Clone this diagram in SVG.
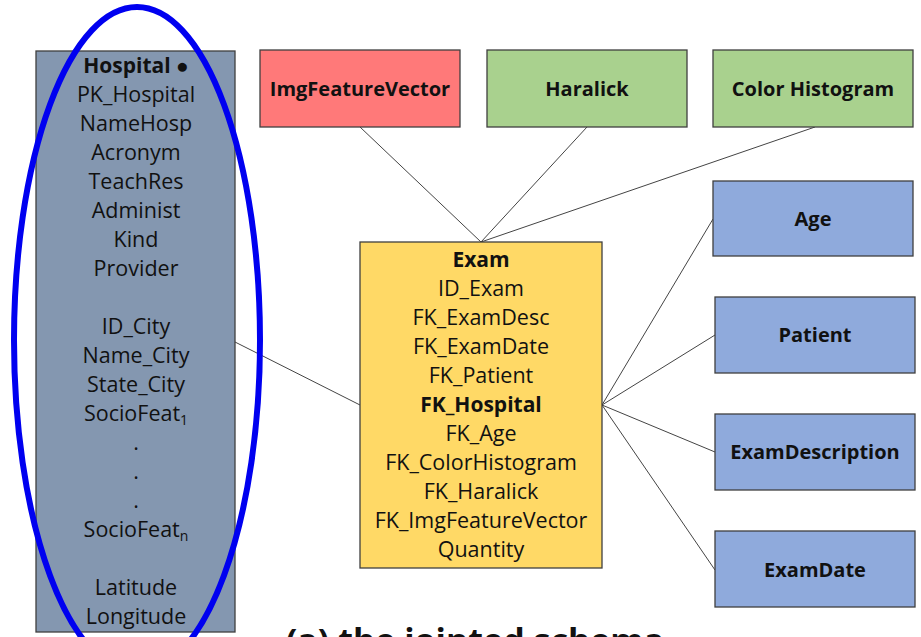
<svg xmlns="http://www.w3.org/2000/svg" width="921" height="637" viewBox="0 0 921 637">
  <style>
    .box { stroke: #3f3f3f; stroke-width: 1.3; }
    .hosp { fill: #8497b0; }
    .fact { fill: #ffd966; }
    .red { fill: #ff7979; }
    .green { fill: #a9d18e; }
    .blue { fill: #8faadc; }
    .t { font-family: "Open Sans", "Liberation Sans", sans-serif; font-size: 21.5px; fill: #111; text-anchor: middle; }
    .b { font-weight: bold; font-size: 21px; }
    .lbl { font-weight: bold; font-size: 20px; }
    .edge { stroke: #444; stroke-width: 1; fill: none; }
  </style>
  <rect width="921" height="637" fill="#ffffff"/>

  <!-- relationship lines -->
  <g id="connectors">
    <line class="edge" x1="360" y1="127" x2="481" y2="242"/>
    <line class="edge" x1="587" y1="127" x2="481" y2="242"/>
    <line class="edge" x1="815" y1="127" x2="481" y2="242"/>
    <line class="edge" x1="235" y1="342" x2="360" y2="405"/>
    <line class="edge" x1="602" y1="405" x2="713" y2="219"/>
    <line class="edge" x1="602" y1="405" x2="715" y2="335"/>
    <line class="edge" x1="602" y1="405" x2="715" y2="452"/>
    <line class="edge" x1="602" y1="405" x2="715" y2="570"/>
  </g>

  <!-- Hospital dimension -->
  <g id="hospital">
    <rect class="box hosp" x="36" y="51" width="199" height="581"/>
    <text class="t b" x="136" y="73">Hospital ●</text>
    <text class="t" x="136" y="102">PK_Hospital</text>
    <text class="t" x="136" y="131">NameHosp</text>
    <text class="t" x="136" y="160">Acronym</text>
    <text class="t" x="136" y="189">TeachRes</text>
    <text class="t" x="136" y="218">Administ</text>
    <text class="t" x="136" y="247">Kind</text>
    <text class="t" x="136" y="276">Provider</text>
    <text class="t" x="136" y="334">ID_City</text>
    <text class="t" x="136" y="363">Name_City</text>
    <text class="t" x="136" y="392">State_City</text>
    <text class="t" x="136" y="421">SocioFeat<tspan font-size="14" dy="4">1</tspan></text>
    <text class="t" x="136" y="450">.</text>
    <text class="t" x="136" y="479">.</text>
    <text class="t" x="136" y="508">.</text>
    <text class="t" x="136" y="537">SocioFeat<tspan font-size="14" dy="4">n</tspan></text>
    <text class="t" x="136" y="595">Latitude</text>
    <text class="t" x="136" y="624">Longitude</text>
  </g>

  <!-- Exam fact table -->
  <g id="exam">
    <rect class="box fact" x="360" y="242" width="242" height="326"/>
    <text class="t b" x="481" y="267">Exam</text>
    <text class="t" x="481" y="296">ID_Exam</text>
    <text class="t" x="481" y="325">FK_ExamDesc</text>
    <text class="t" x="481" y="354">FK_ExamDate</text>
    <text class="t" x="481" y="383">FK_Patient</text>
    <text class="t b" x="481" y="412">FK_Hospital</text>
    <text class="t" x="481" y="441">FK_Age</text>
    <text class="t" x="481" y="470">FK_ColorHistogram</text>
    <text class="t" x="481" y="499">FK_Haralick</text>
    <text class="t" x="481" y="528">FK_ImgFeatureVector</text>
    <text class="t" x="481" y="557">Quantity</text>
  </g>

  <!-- image feature dimensions -->
  <g id="imgfeaturevector">
    <rect class="box red" x="260" y="50" width="200" height="77"/>
    <text class="t lbl" x="360" y="96">ImgFeatureVector</text>
  </g>
  <g id="haralick">
    <rect class="box green" x="487" y="50" width="200" height="77"/>
    <text class="t lbl" x="587" y="96">Haralick</text>
  </g>
  <g id="colorhistogram">
    <rect class="box green" x="713" y="50" width="200" height="77"/>
    <text class="t lbl" x="813" y="96">Color Histogram</text>
  </g>

  <!-- other dimensions -->
  <g id="age">
    <rect class="box blue" x="713" y="181" width="200" height="75"/>
    <text class="t lbl" x="813" y="226">Age</text>
  </g>
  <g id="patient">
    <rect class="box blue" x="715" y="297" width="200" height="76"/>
    <text class="t lbl" x="815" y="342">Patient</text>
  </g>
  <g id="examdescription">
    <rect class="box blue" x="715" y="414" width="200" height="76"/>
    <text class="t lbl" x="815" y="459">ExamDescription</text>
  </g>
  <g id="examdate">
    <rect class="box blue" x="715" y="531" width="200" height="76"/>
    <text class="t lbl" x="815" y="577">ExamDate</text>
  </g>

  <!-- highlight around the hospital dimension -->
  <ellipse cx="137" cy="340" rx="123" ry="333" fill="none" stroke="#0000f0" stroke-width="6"/>

  <!-- caption, running past the lower edge -->
  <text class="t" x="475" y="653" style="font-size:34px;font-weight:bold">(a) the jointed schema</text>
</svg>
